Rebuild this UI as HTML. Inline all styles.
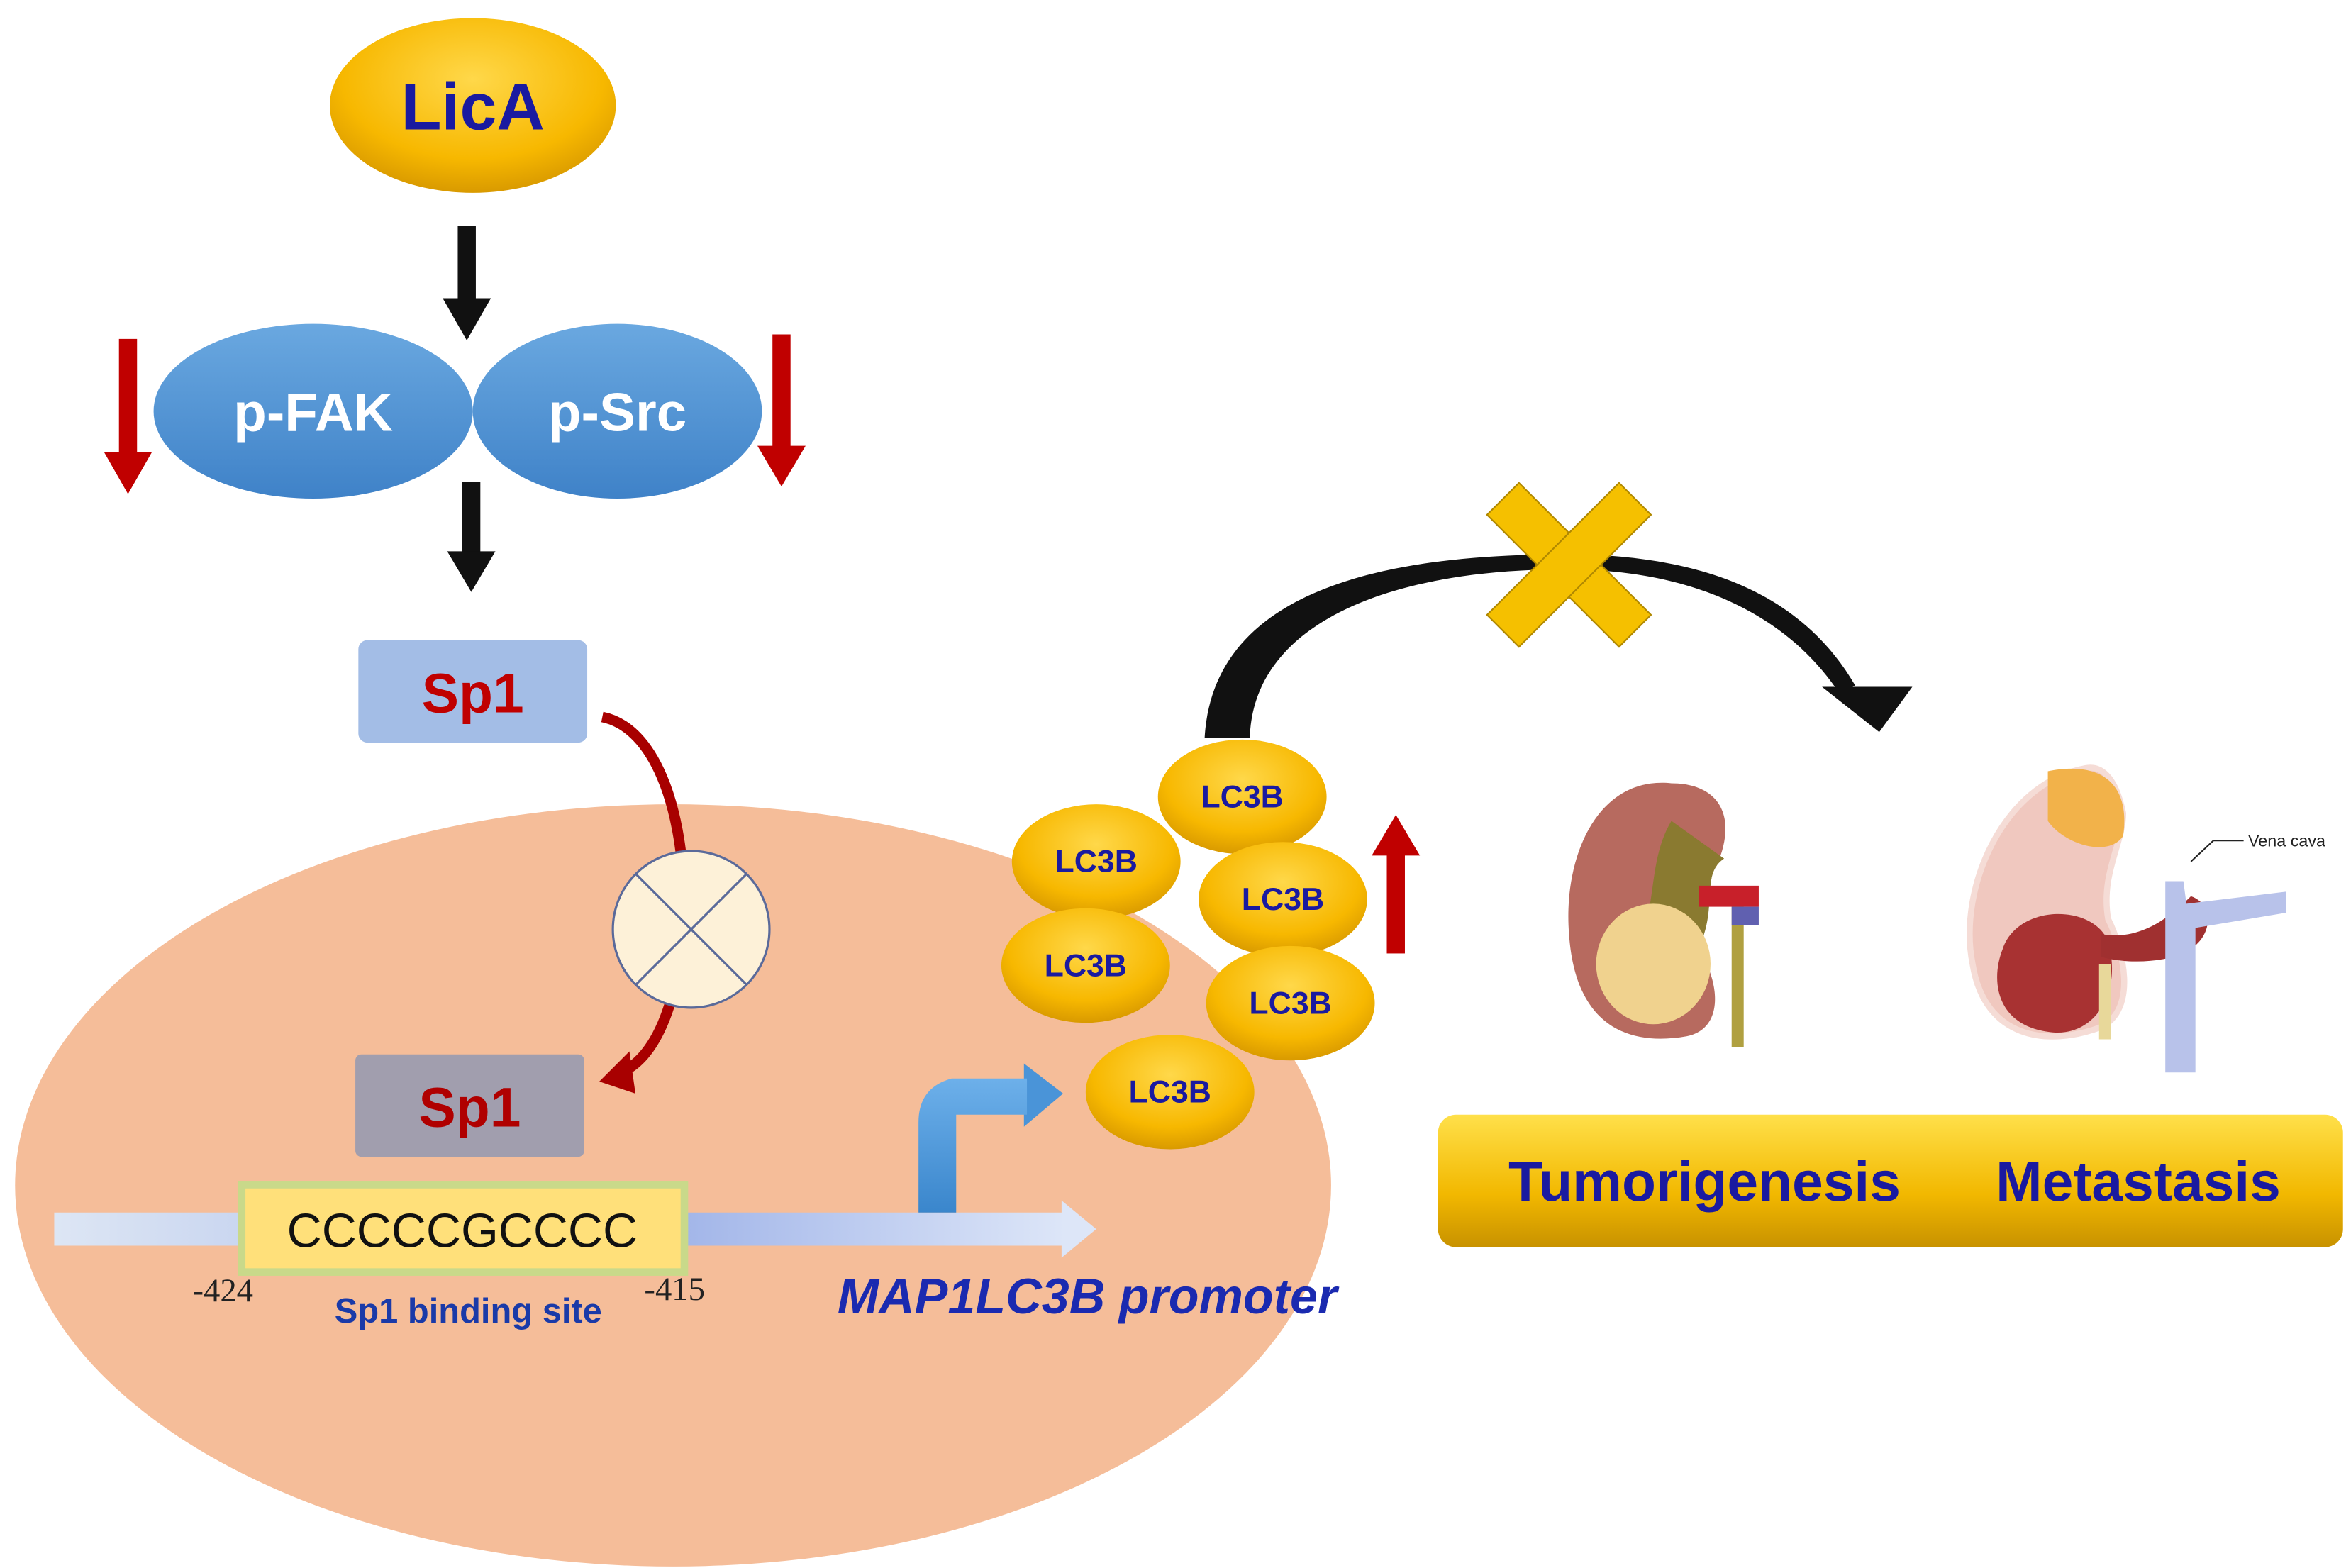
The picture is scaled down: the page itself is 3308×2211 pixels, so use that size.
<!DOCTYPE html>
<html><head><meta charset="utf-8"><style>html,body{margin:0;padding:0;background:#fff}svg{display:block}</style></head>
<body>
<svg width="3308" height="2211" viewBox="0 0 1558 1041" preserveAspectRatio="none" xmlns="http://www.w3.org/2000/svg" font-family="Liberation Sans, sans-serif">
<defs>
<radialGradient id="gold" cx="50%" cy="35%" r="65%"><stop offset="0" stop-color="#ffd84a"/><stop offset="0.7" stop-color="#f7b800"/><stop offset="1" stop-color="#d99a00"/></radialGradient>
<linearGradient id="blue" x1="0" y1="0" x2="0" y2="1"><stop offset="0" stop-color="#6aa8e0"/><stop offset="1" stop-color="#3f82c8"/></linearGradient>
<linearGradient id="bar" x1="0" y1="0" x2="0" y2="1"><stop offset="0" stop-color="#ffe04a"/><stop offset="0.6" stop-color="#f2b800"/><stop offset="1" stop-color="#c89200"/></linearGradient>
<linearGradient id="dna" x1="0" y1="0" x2="1" y2="0"><stop offset="0" stop-color="#dde6f4"/><stop offset="0.6" stop-color="#9fb3e8"/><stop offset="1" stop-color="#dde6f8"/></linearGradient>
<linearGradient id="bent" x1="0" y1="0" x2="0" y2="1"><stop offset="0" stop-color="#6db0ea"/><stop offset="1" stop-color="#3a86cc"/></linearGradient>
</defs>
<ellipse cx="314" cy="70" rx="95" ry="58" fill="url(#gold)"/>
<text x="314" y="86" text-anchor="middle" font-size="44" font-weight="bold" fill="#1a1aa0">LicA</text>
<rect x="304" y="150" width="12" height="50" fill="#111"/>
<polygon points="294,198 326,198 310,226" fill="#111"/>
<ellipse cx="208" cy="273" rx="106" ry="58" fill="url(#blue)"/>
<ellipse cx="410" cy="273" rx="96" ry="58" fill="url(#blue)"/>
<text x="208" y="286" text-anchor="middle" font-size="36" font-weight="bold" fill="#fff">p-FAK</text>
<text x="410" y="286" text-anchor="middle" font-size="36" font-weight="bold" fill="#fff">p-Src</text>
<rect x="79" y="225" width="12" height="78" fill="#c00000"/>
<polygon points="69,300 101,300 85,328" fill="#c00000"/>
<rect x="513" y="222" width="12" height="76" fill="#c00000"/>
<polygon points="503,296 535,296 519,323" fill="#c00000"/>
<rect x="307" y="320" width="12" height="48" fill="#111"/>
<polygon points="297,366 329,366 313,393" fill="#111"/>
<rect x="238" y="425" width="152" height="68" rx="6" fill="#a3bde6"/>
<text x="314" y="473" text-anchor="middle" font-size="37" font-weight="bold" fill="#c00000">Sp1</text>
<ellipse cx="447" cy="787" rx="437" ry="253" fill="#f5bd99"/>
<path d="M400,476 C470,490 470,690 412,712" fill="none" stroke="#a80000" stroke-width="7"/>
<polygon points="398,718 418,698 422,726" fill="#a80000"/>
<circle cx="459" cy="617" r="52" fill="#fdf1d8" stroke="#5a6a9a" stroke-width="1.5"/>
<line x1="422" y1="580" x2="496" y2="654" stroke="#5a6a9a" stroke-width="1.5"/>
<line x1="496" y1="580" x2="422" y2="654" stroke="#5a6a9a" stroke-width="1.5"/>
<rect x="236" y="700" width="152" height="68" rx="4" fill="#a19eae"/>
<text x="312" y="748" text-anchor="middle" font-size="37" font-weight="bold" fill="#b00000">Sp1</text>
<rect x="36" y="805" width="672" height="22" fill="url(#dna)"/>
<polygon points="705,797 728,816 705,835" fill="#dde6f8"/>
<rect x="158" y="784" width="299" height="63" fill="#c9d98a"/>
<rect x="163" y="789" width="289" height="53" fill="#ffe07a"/>
<text x="307" y="828" text-anchor="middle" font-size="32" fill="#111">CCCCCGCCCC</text>
<text x="148" y="864" text-anchor="middle" font-size="22" font-family="Liberation Serif, serif" fill="#222">-424</text>
<text x="448" y="863" text-anchor="middle" font-size="22" font-family="Liberation Serif, serif" fill="#222">-415</text>
<text x="311" y="878" text-anchor="middle" font-size="23" font-weight="bold" fill="#1a3aa8">Sp1 binding site</text>
<text x="722" y="872" text-anchor="middle" font-size="33" font-weight="bold" font-style="italic" fill="#1a2ab0">MAP1LC3B promoter</text>
<polygon points="680,706 706,726 680,748" fill="#4a94d8"/>
<path d="M610,805 L610,745 Q610,722 632,716 L682,716 L682,740 L635,740 L635,805 Z" fill="url(#bent)"/>
<g font-size="21" font-weight="bold" fill="#1a1aa0" text-anchor="middle">
<ellipse cx="825" cy="529" rx="56" ry="38" fill="url(#gold)"/><text x="825" y="536">LC3B</text>
<ellipse cx="728" cy="572" rx="56" ry="38" fill="url(#gold)"/><text x="728" y="579">LC3B</text>
<ellipse cx="852" cy="597" rx="56" ry="38" fill="url(#gold)"/><text x="852" y="604">LC3B</text>
<ellipse cx="721" cy="641" rx="56" ry="38" fill="url(#gold)"/><text x="721" y="648">LC3B</text>
<ellipse cx="857" cy="666" rx="56" ry="38" fill="url(#gold)"/><text x="857" y="673">LC3B</text>
<ellipse cx="777" cy="725" rx="56" ry="38" fill="url(#gold)"/><text x="777" y="732">LC3B</text>
</g>
<rect x="921" y="566" width="12" height="67" fill="#c00000"/>
<polygon points="911,568 943,568 927,541" fill="#c00000"/>
<path d="M800,490 C805,400 900,368 1040,368 C1140,368 1200,400 1232,455 L1222,461 C1190,412 1130,378 1040,378 C920,378 832,415 830,490 Z" fill="#111"/>
<polygon points="1210,456 1270,456 1248,486" fill="#111"/>
<g transform="translate(1042,375) rotate(45)">
<rect x="-62" y="-15" width="124" height="30" fill="#f5c000" stroke="#b08800" stroke-width="1"/>
<rect x="-15" y="-62" width="30" height="124" fill="#f5c000" stroke="#b08800" stroke-width="1"/>
<rect x="-14" y="-14" width="28" height="28" fill="#f5c000"/>
</g>
<path d="M1110,520 C1060,515 1038,570 1042,620 C1046,680 1080,695 1120,688 C1150,682 1140,640 1120,620 C1105,600 1120,580 1140,575 C1155,540 1140,520 1110,520 Z" fill="#b76a5f"/>
<path d="M1110,545 C1095,570 1100,600 1090,620 L1130,625 C1140,600 1130,580 1145,570 Z" fill="#8a7a30"/>
<ellipse cx="1098" cy="640" rx="38" ry="40" fill="#f0d28e"/>
<rect x="1150" y="600" width="8" height="95" fill="#b0a040"/>
<rect x="1128" y="588" width="40" height="14" fill="#c8202a"/>
<rect x="1150" y="602" width="18" height="12" fill="#6060b0"/>
<path d="M1385,510 C1330,520 1300,590 1310,640 C1318,690 1360,695 1395,682 C1420,670 1410,630 1400,610 C1395,580 1410,560 1410,540 C1405,515 1395,508 1385,510 Z" fill="#f0c8bf" stroke="#f5dcd6" stroke-width="4"/>
<path d="M1360,512 C1395,505 1415,520 1410,555 C1400,570 1370,560 1360,545 Z" fill="#f2b24a"/>
<path d="M1330,630 C1340,600 1390,600 1400,625 C1410,660 1390,690 1360,685 C1325,680 1322,650 1330,630 Z" fill="#a83232"/>
<path d="M1395,620 C1420,625 1440,610 1455,595 C1470,600 1470,620 1455,630 C1440,640 1410,640 1395,635 Z" fill="#a03030"/>
<rect x="1394" y="640" width="8" height="50" fill="#e8d89a"/>
<path d="M1438,585 L1450,585 L1452,600 L1518,592 L1518,606 L1458,616 L1458,712 L1438,712 Z" fill="#b8c2ea"/>
<line x1="1455" y1="572" x2="1470" y2="558" stroke="#222" stroke-width="1"/>
<line x1="1470" y1="558" x2="1490" y2="558" stroke="#222" stroke-width="1"/>
<text x="1493" y="562" font-size="11" fill="#222">Vena cava</text>
<rect x="955" y="740" width="601" height="88" rx="12" fill="url(#bar)"/>
<text x="1132" y="797" text-anchor="middle" font-size="37" font-weight="bold" fill="#1a1aa0">Tumorigenesis</text>
<text x="1420" y="797" text-anchor="middle" font-size="37" font-weight="bold" fill="#1a1aa0">Metastasis</text>
</svg>
</body></html>
